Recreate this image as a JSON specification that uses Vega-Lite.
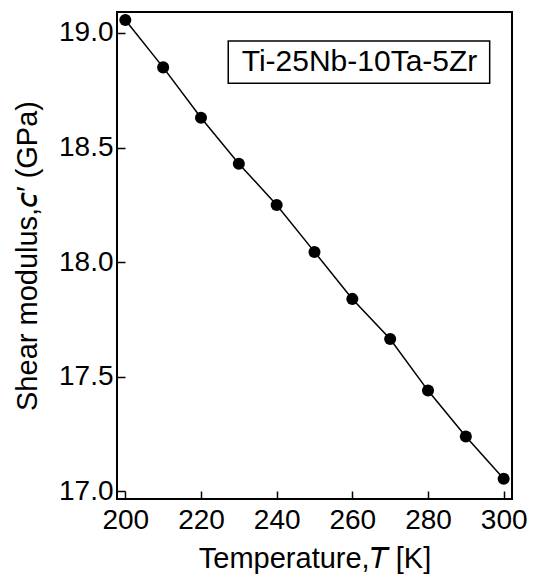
{
  "$schema": "https://vega.github.io/schema/vega-lite/v6.json",
  "width": 395,
  "height": 487,
  "autosize": {"type": "none"},
  "padding": {"left": 117, "top": 12, "right": 22, "bottom": 82},
  "background": "white",
  "config": {
    "view": {"stroke": "black", "strokeWidth": 2},
    "font": "Liberation Sans",
    "axis": {
      "domain": false,
      "grid": false,
      "ticks": true,
      "tickColor": "black",
      "tickWidth": 1.5,
      "tickSize": -8,
      "labelColor": "black",
      "labelFont": "Liberation Sans",
      "labelFontSize": 28,
      "titleFont": "Liberation Sans",
      "titleFontSize": 29,
      "titleFontWeight": "normal",
      "titleColor": "black"
    }
  },
  "layer": [
    {
      "data": {"name": "pts", "values": [
        {"T": 200, "c": 19.057},
        {"T": 210, "c": 18.85},
        {"T": 220, "c": 18.63},
        {"T": 230, "c": 18.43},
        {"T": 240, "c": 18.25},
        {"T": 250, "c": 18.045},
        {"T": 260, "c": 17.84},
        {"T": 270, "c": 17.665},
        {"T": 280, "c": 17.44},
        {"T": 290, "c": 17.24},
        {"T": 300, "c": 17.055}
      ]},
      "layer": [
        {
          "mark": {"type": "line", "color": "black", "strokeWidth": 1.5},
          "encoding": {
            "x": {"field": "T", "type": "quantitative",
              "scale": {"domain": [197.8, 302.2], "nice": false, "zero": false},
              "axis": {"values": [200, 220, 240, 260, 280, 300], "title": "Temperature,𝘛 [K]", "labelPadding": 15, "titlePadding": 10}},
            "y": {"field": "c", "type": "quantitative",
              "scale": {"domain": [16.967, 19.0916], "nice": false, "zero": false},
              "axis": {"values": [17, 17.5, 18, 18.5, 19], "format": ".1f", "title": "Shear modulus,𝘤′ (GPa)", "labelPadding": 12, "titlePadding": 16}}
          }
        },
        {
          "mark": {"type": "point", "filled": true, "color": "black", "opacity": 1, "size": 145},
          "encoding": {
            "x": {"field": "T", "type": "quantitative"},
            "y": {"field": "c", "type": "quantitative"}
          }
        }
      ]
    },
    {
      "data": {"values": [{"x1": 227.2, "x2": 296.3, "y1": 18.965, "y2": 18.781, "xm": 261.9, "ym": 18.873, "label": "Ti-25Nb-10Ta-5Zr"}]},
      "layer": [
        {
          "mark": {"type": "rect", "fill": "white", "stroke": "black", "strokeWidth": 1.5},
          "encoding": {
            "x": {"field": "x1", "type": "quantitative"},
            "x2": {"field": "x2"},
            "y": {"field": "y1", "type": "quantitative"},
            "y2": {"field": "y2"}
          }
        },
        {
          "mark": {"type": "text", "fontSize": 30, "font": "Liberation Sans", "color": "black", "align": "center", "baseline": "middle"},
          "encoding": {
            "x": {"field": "xm", "type": "quantitative"},
            "y": {"field": "ym", "type": "quantitative"},
            "text": {"field": "label"}
          }
        }
      ]
    }
  ]
}
